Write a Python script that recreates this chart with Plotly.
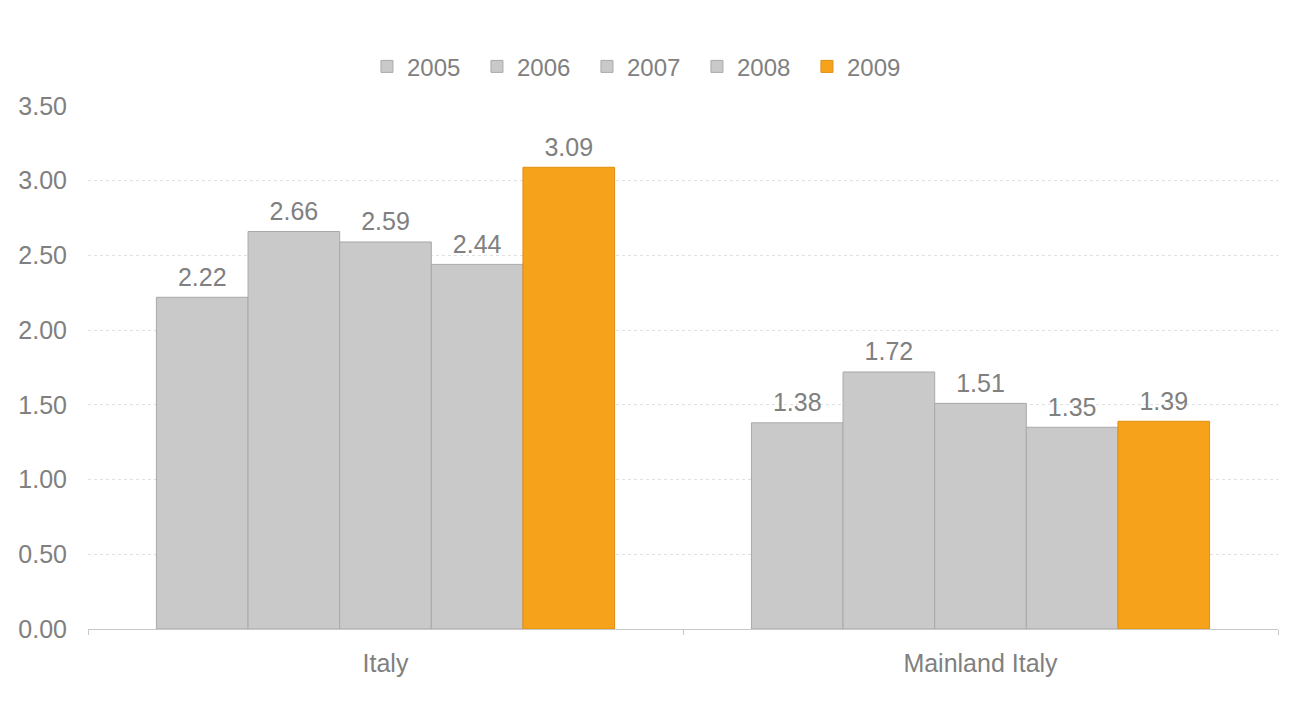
import plotly.graph_objects as go

categories = ["Italy", "Mainland Italy"]
years = ["2005", "2006", "2007", "2008", "2009"]
values = {
    "2005": [2.22, 1.38],
    "2006": [2.66, 1.72],
    "2007": [2.59, 1.51],
    "2008": [2.44, 1.35],
    "2009": [3.09, 1.39],
}
colors = {"2005": "#c9c9c9", "2006": "#c9c9c9", "2007": "#c9c9c9", "2008": "#c9c9c9", "2009": "#f6a31b"}
edges = {"2005": "#a9a9a9", "2006": "#a9a9a9", "2007": "#a9a9a9", "2008": "#a9a9a9", "2009": "#e08e10"}

TXT = "#808080"
fig = go.Figure()
for yr in years:
    fig.add_trace(go.Bar(
        name=yr, x=categories, y=values[yr], offsetgroup=yr,
        marker=dict(color=colors[yr], line=dict(color=edges[yr], width=1)),
        hoverinfo="skip",
    ))
for yr in years:
    fig.add_trace(go.Scatter(
        name=yr, x=categories, y=values[yr], offsetgroup=yr,
        mode="markers+text", marker=dict(size=7, opacity=0, color="white"),
        text=[f"{v:.2f}" for v in values[yr]], textposition="top center",
        textfont=dict(color=TXT, size=25), showlegend=False, cliponaxis=False,
    ))

fig.update_layout(
    barmode="group", bargap=0.23, bargroupgap=0,
    scattermode="group", scattergap=0.23,
    width=1295, height=696,
    margin=dict(l=80, r=25, t=98, b=75, autoexpand=False),
    paper_bgcolor="white", plot_bgcolor="white",
    font=dict(family="Liberation Sans, Arial, sans-serif", color=TXT, size=24),
    legend=dict(orientation="h", x=0.4655, xanchor="center", y=1.075, yanchor="middle",
                font=dict(size=24, color=TXT), itemwidth=30, traceorder="normal",
                entrywidth=65, entrywidthmode="pixels"),
    showlegend=True,
)
fig.update_yaxes(range=[0, 3.5], dtick=0.5, tickformat=".2f", automargin=False,
                 showgrid=True, gridcolor="#e0e0e0", griddash="dot", gridwidth=1.2,
                 zeroline=False, showline=False, ticks="", ticklabelstandoff=20,
                 tickfont=dict(size=25, color=TXT))
fig.update_xaxes(showline=True, linecolor="#c8c8c8", linewidth=1, ticks="outside",
                 tickson="boundaries", tickcolor="#c8c8c8", ticklen=5, automargin=False,
                 ticklabelstandoff=12, tickfont=dict(size=25, color=TXT))

fig.write_html("out.html")
